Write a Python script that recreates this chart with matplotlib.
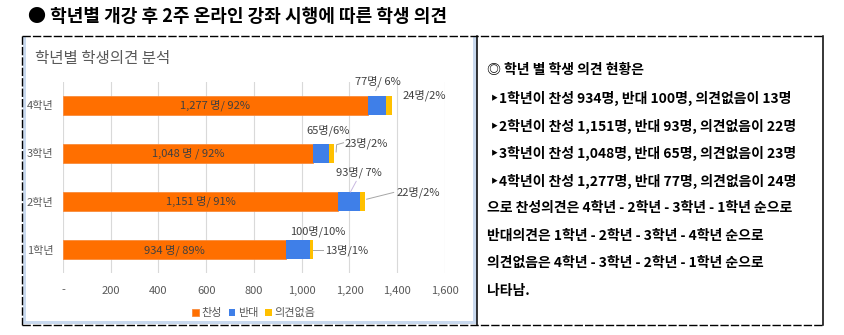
import matplotlib
matplotlib.use("Agg")
import matplotlib.pyplot as plt
from matplotlib.lines import Line2D
from matplotlib.patches import Rectangle
import numpy as np

plt.rcParams['font.family'] = ['Noto Sans CJK KR', 'DejaVu Sans']

W, H = 845, 335

grades = ['1학년', '2학년', '3학년', '4학년']
agree = [934, 1151, 1048, 1277]
disagree = [100, 93, 65, 77]
no_opinion = [13, 22, 23, 24]
agree_labels = ['934 명/ 89%', '1,151 명/ 91%', '1,048 명 / 92%', '1,277 명/ 92%']
disagree_labels = ['100명/10%', '93명/ 7%', '65명/6%', '77명/ 6%']
none_labels = ['13명/1%', '22명/2%', '23명/2%', '24명/2%']
xticks = [0, 200, 400, 600, 800, 1000, 1200, 1400, 1600]
xtick_labels = ['-', '200', '400', '600', '800', '1,000', '1,200', '1,400', '1,600']
legend_names = ['찬성', '반대', '의견없음']

main_title = '● 학년별 개강 후 2주 온라인 강좌 시행에 따른 학생 의견'
chart_title = '학년별 학생의견 분석'
right_lines = [
    '◎ 학년 별 학생 의견 현황은',
    ' ‣1학년이 찬성 934명, 반대 100명, 의견없음이 13명',
    ' ‣2학년이 찬성 1,151명, 반대 93명, 의견없음이 22명',
    ' ‣3학년이 찬성 1,048명, 반대 65명, 의견없음이 23명',
    ' ‣4학년이 찬성 1,277명, 반대 77명, 의견없음이 24명',
    '으로 찬성의견은 4학년 - 2학년 - 3학년 - 1학년 순으로',
    '반대의견은 1학년 - 2학년 - 3학년 - 4학년 순으로',
    '의견없음은 4학년 - 3학년 - 2학년 - 1학년 순으로',
    '나타남.',
]

C_OR = '#FF6F00'
C_BL = '#3F7FE8'
C_YE = '#FFC000'
GRAY = '#595959'

fig = plt.figure(figsize=(W / 100, H / 100), dpi=100)
fig.patch.set_facecolor('white')


def fx(x):
    return x / W


def fy(y):
    return 1 - y / H


def fline(xs, ys, **kw):
    fig.add_artist(Line2D([fx(v) for v in xs], [fy(v) for v in ys], **kw))


# panel decorations
fig.add_artist(Rectangle((fx(22), fy(325)), fx(477) - fx(22), fy(36) - fy(325),
                         facecolor='white', edgecolor='none', zorder=0))
fig.add_artist(Rectangle((fx(23), fy(324)), fx(3), fy(36) - fy(324),
                         facecolor='#C9D9EE', edgecolor='none'))
fig.add_artist(Rectangle((fx(473), fy(324)), fx(4), fy(36) - fy(324),
                         facecolor='#C9D9EE', edgecolor='none'))
fig.add_artist(Rectangle((fx(23), fy(324)), fx(454), fy(321) - fy(324),
                         facecolor='#C9D9EE', edgecolor='none'))
fline([22, 823], [36, 36], color='black', lw=1, ls=(0, (6, 1.5)))
fline([22, 823], [325, 325], color='black', lw=1, ls=(0, (6, 1.5)))
fline([22, 22], [36, 325], color='black', lw=1, ls=(0, (6, 1.5)))
fline([823, 823], [36, 325], color='black', lw=1.1)
fline([477.5, 477.5], [36, 325], color='black', lw=1.1)

fig.text(fx(28), fy(17), main_title, fontsize=13, fontweight='bold',
         ha='left', va='center', color='black')
fig.text(fx(35), fy(59), chart_title, fontsize=11.2, ha='left', va='center',
         color=GRAY)

for i, line in enumerate(right_lines):
    yy = [70, 98, 126, 153, 181, 208, 236, 263, 291][i]
    fig.text(fx(487), fy(yy), line, fontsize=10, ha='left', va='center',
             color='black', fontweight='bold')

# chart axes
ax = fig.add_axes([fx(63), fy(273), fx(445) - fx(63), fy(82) - fy(273)])
ax.set_facecolor('none')
y = np.arange(len(grades))
bh = 0.39
a = np.array(agree)
d = np.array(disagree)
n = np.array(no_opinion)
ax.barh(y, a, height=bh, color=C_OR, edgecolor='#F98B3C', lw=0.6, zorder=3,
        label=legend_names[0])
ax.barh(y, d, left=a, height=bh, color=C_BL, zorder=3, label=legend_names[1])
ax.barh(y, n, left=a + d, height=bh, color=C_YE, zorder=3,
        label=legend_names[2])

ax.set_xlim(0, 1600)
ax.set_ylim(-0.48, 3.48)
ax.set_xticks(xticks)
ax.set_xticklabels(xtick_labels)
ax.set_yticks(y)
ax.set_yticklabels(grades)
ax.tick_params(axis='both', length=0, labelsize=8, colors=GRAY)
ax.tick_params(axis='x', pad=9)
ax.tick_params(axis='y', pad=7)
for s in ax.spines.values():
    s.set_visible(False)
ax.grid(axis='x', color='#D9D9D9', lw=0.8, zorder=0)
ax.grid(axis='y', visible=False)

lab_col = '#404040'
for i in range(len(grades)):
    ax.text(a[i] / 2, y[i], agree_labels[i], ha='center', va='center',
            fontsize=8, color=lab_col, zorder=5)

# disagreement labels (x in data, y offset)
dis_pos = [(1068, 0.39), (1240, 1.6), (1110, 2.48), (1319, 3.5)]
for i, (xx, yy) in enumerate(dis_pos):
    ax.text(xx, yy, disagree_labels[i], ha='center', va='center', fontsize=8,
            color=lab_col, clip_on=False)
none_pos = [(1097, 0.0), (1395, 1.19), (1181, 2.2), (1424, 3.21)]
for i, (xx, yy) in enumerate(none_pos):
    ax.text(xx, yy, none_labels[i], ha='left', va='center', fontsize=8,
            color=lab_col, clip_on=False)

# leader lines
lc = '#A6A6A6'
ax.plot([1049, 1090], [0, 0], color=lc, lw=0.7, zorder=4)
ax.plot([1272, 1385], [1.05, 1.19], color=lc, lw=0.7, zorder=4)
ax.plot([1144, 1146, 1175], [2.03, 2.18, 2.22], color=lc, lw=0.7, zorder=4)
ax.plot([1204, 1228], [1.2, 1.42], color='#C8B8E0', lw=0.7, zorder=4)
ax.plot([1310, 1318], [3.3, 3.4], color=lc, lw=0.6, zorder=4)

leg = ax.legend(loc='upper center', bbox_to_anchor=(0.5, -0.16), ncol=3,
                frameon=False, fontsize=8, handlelength=0.6,
                handleheight=0.6, handletextpad=0.25, columnspacing=0.6,
                borderaxespad=0)
for t in leg.get_texts():
    t.set_color(GRAY)

fig.savefig('out.png', dpi=100, facecolor='white')
